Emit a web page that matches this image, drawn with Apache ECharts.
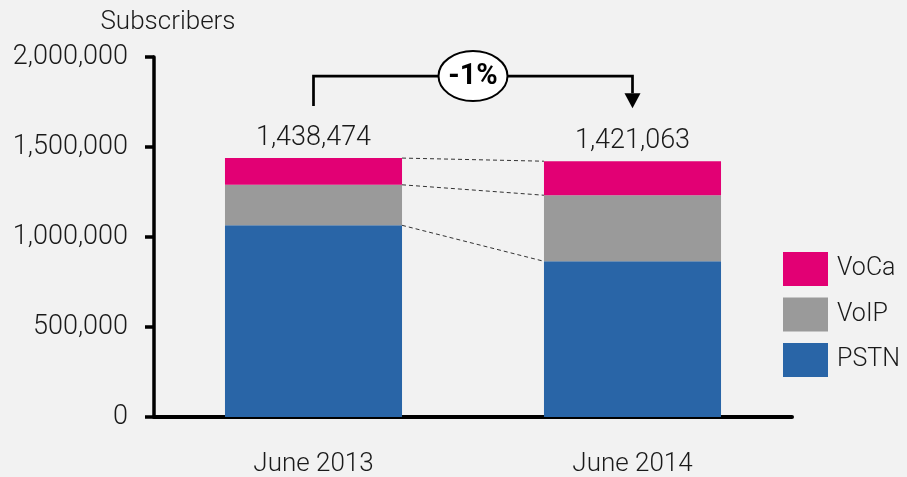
<!DOCTYPE html>
<html>
<head>
<meta charset="utf-8">
<script src="https://cdn.jsdelivr.net/npm/echarts@6/dist/echarts.min.js"></script>
<style>
html,body{margin:0;padding:0;background:#f2f2f2;}
#chart{width:907px;height:477px;}
</style>
</head>
<body>
<div id="chart"></div>
<script>
const categories = ['June 2013', 'June 2014'];
const pstn = [1065000, 865000];
const voip = [225000, 367000];
const voca = [148474, 189063];
const totals = [1438474, 1421063];
const yMin = 0, yMax = 2000000, yInterval = 500000;

const BAR_RATIO = 0.555;
const fmt = v => Number(v).toLocaleString('en-US');

// cumulative boundaries for the dashed connectors
const connectors = [
  [0, pstn[0], pstn[1]],
  [0, pstn[0] + voip[0], pstn[1] + voip[1]],
  [0, totals[0], totals[1]]
];
const changePct = Math.round((totals[1] - totals[0]) / totals[0] * 100);

const chart = echarts.init(document.getElementById('chart'));
chart.setOption({
  backgroundColor: '#f2f2f2',
  textStyle: { fontFamily: 'Roboto', fontWeight: 300 },
  animation: false,
  grid: { left: 154, right: 115, top: 57, bottom: 60, containLabel: false },
  legend: {
    orient: 'vertical', left: 778, top: 247,
    itemWidth: 45, itemHeight: 34, itemGap: 11.5,
    icon: 'rect',
    data: ['VoCa', 'VoIP', 'PSTN'],
    textStyle: { fontSize: 25, color: '#1a1a1a', padding: [0, 0, 0, 4], fontFamily: 'Roboto', fontWeight: 300 },
    selectedMode: false
  },
  xAxis: {
    type: 'category', data: categories,
    axisLine: { lineStyle: { color: '#000', width: 4 } },
    axisTick: { show: false },
    axisLabel: { fontSize: 26, color: '#1a1a1a', margin: 34, fontWeight: 300 }
  },
  yAxis: {
    type: 'value', min: yMin, max: yMax, interval: yInterval,
    name: 'Subscribers', nameLocation: 'end', nameGap: 22,
    nameTextStyle: { fontSize: 26, color: '#1a1a1a', align: 'center', padding: [0, 0, 0, 28], fontWeight: 300 },
    axisLine: { show: true, lineStyle: { color: '#000', width: 3.5 } },
    axisTick: { show: true, inside: false, length: 9, lineStyle: { color: '#000', width: 3.5 } },
    splitLine: { show: false },
    axisLabel: { fontSize: 27, color: '#1a1a1a', margin: 26, fontWeight: 300, formatter: v => fmt(v) }
  },
  series: [
    { name: 'PSTN', type: 'bar', stack: 's', data: pstn, barWidth: (BAR_RATIO * 100) + '%', itemStyle: { color: '#2965a7' } },
    { name: 'VoIP', type: 'bar', stack: 's', data: voip, itemStyle: { color: '#9a9a9a' } },
    { name: 'VoCa', type: 'bar', stack: 's', data: voca, itemStyle: { color: '#e20074' },
      label: { show: true, position: 'top', distance: 6, fontSize: 27, color: '#1a1a1a', fontWeight: 300,
        formatter: p => fmt(totals[p.dataIndex]) } },
    {
      type: 'custom', name: 'connectors', data: connectors, encode: { x: 0, y: 1 },
      silent: true, z: 1,
      renderItem: function (params, api) {
        const a = api.coord([0, api.value(1)]);
        const b = api.coord([1, api.value(2)]);
        const hw = api.size([1, 0])[0] * BAR_RATIO / 2;
        return {
          type: 'line',
          shape: { x1: a[0] + hw, y1: a[1], x2: b[0] - hw, y2: b[1] },
          style: { stroke: '#333', lineWidth: 1, lineDash: [4, 3] }
        };
      }
    },
    {
      type: 'custom', name: 'change', data: [[0, totals[0], totals[1]]], encode: { x: 0, y: 1 },
      silent: true, z: 5,
      renderItem: function (params, api) {
        const a = api.coord([0, api.value(1)]);
        const b = api.coord([1, api.value(2)]);
        const yH = Math.min(a[1], b[1]) - 82;
        const y1 = a[1] - 52;
        const tip = b[1] - 53;
        const headH = 15, headW = 8;
        const cx = (a[0] + b[0]) / 2;
        return {
          type: 'group',
          children: [
            { type: 'polyline', shape: { points: [[a[0], y1], [a[0], yH], [b[0], yH], [b[0], tip - headH]] },
              style: { stroke: '#000', lineWidth: 2.7, fill: null } },
            { type: 'polygon', shape: { points: [[b[0] - headW, tip - headH], [b[0] + headW, tip - headH], [b[0], tip]] },
              style: { fill: '#000' } },
            { type: 'ellipse', shape: { cx: cx, cy: yH, rx: 34.5, ry: 25 },
              style: { fill: '#fff', stroke: '#000', lineWidth: 2 } },
            { type: 'text', x: cx, y: yH + 1,
              style: { text: changePct + '%', fill: '#000', font: 'bold 29px Roboto', align: 'center', verticalAlign: 'middle' } }
          ]
        };
      }
    }
  ]
});
</script>
</body>
</html>
